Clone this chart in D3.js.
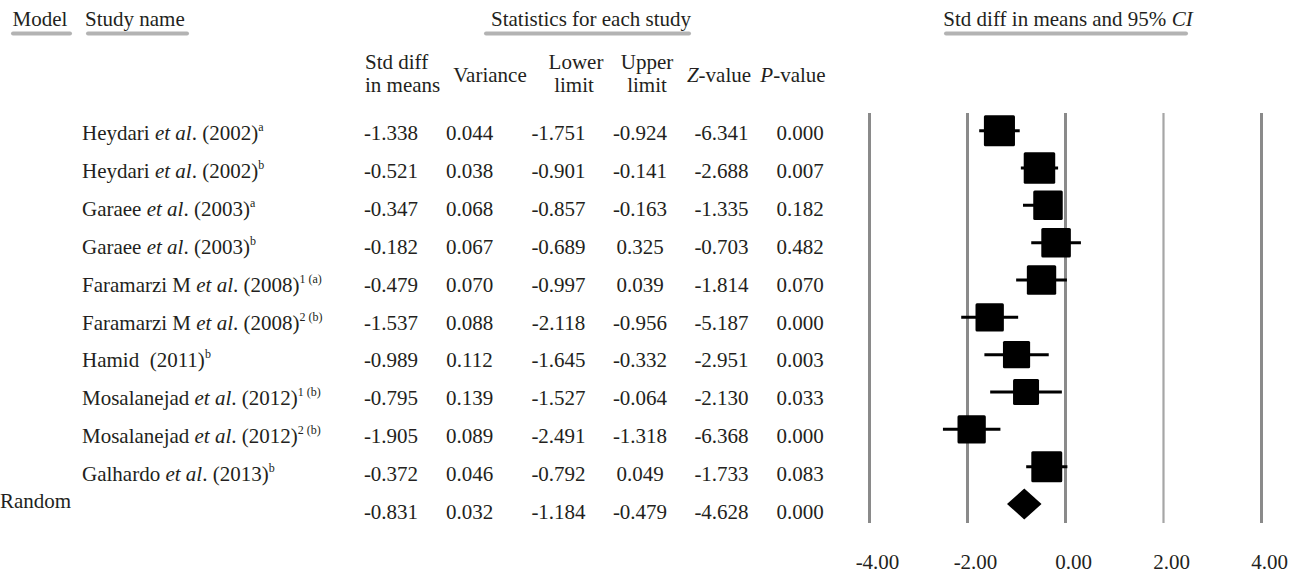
<!DOCTYPE html>
<html>
<head>
<meta charset="utf-8">
<script src="https://cdn.jsdelivr.net/npm/d3@7"></script>
<style>
  html, body { margin: 0; padding: 0; background: #fff; }
  svg text { font-family: "Liberation Serif", "Times New Roman", serif; fill: #231f20; }
</style>
</head>
<body>
<svg id="chart" width="1294" height="578"></svg>
<script>
// Study rows
const studyAuthors = ["Heydari", "Heydari", "Garaee", "Garaee", "Faramarzi M", "Faramarzi M",
                      "Hamid", "Mosalanejad", "Mosalanejad", "Galhardo"];
const studyEtAl    = [true, true, true, true, true, true, false, true, true, true];
const studyYears   = ["2002", "2002", "2003", "2003", "2008", "2008", "2011", "2012", "2012", "2013"];
const studySup     = ["a", "b", "a", "b", "1 (a)", "2 (b)", "b", "1 (b)", "2 (b)", "b"];

// Statistics for each study
const stdDiff  = [-1.338, -0.521, -0.347, -0.182, -0.479, -1.537, -0.989, -0.795, -1.905, -0.372];
const variance = [0.044, 0.038, 0.068, 0.067, 0.070, 0.088, 0.112, 0.139, 0.089, 0.046];
const lower    = [-1.751, -0.901, -0.857, -0.689, -0.997, -2.118, -1.645, -1.527, -2.491, -0.792];
const upper    = [-0.924, -0.141, -0.163, 0.325, 0.039, -0.956, -0.332, -0.064, -1.318, 0.049];
const zValue   = [-6.341, -2.688, -1.335, -0.703, -1.814, -5.187, -2.951, -2.130, -6.368, -1.733];
const pValue   = [0.000, 0.007, 0.182, 0.482, 0.070, 0.000, 0.003, 0.033, 0.000, 0.083];

// Random-effects summary
const randomLabel = "Random";
const randomStats = { stdDiff: -0.831, variance: 0.032, lower: -1.184, upper: -0.479, z: -4.628, p: 0.000 };

// Axis of the forest plot
const axisTicks = [-4, -2, 0, 2, 4];
const tauSquared = 0.245; // between-study variance used for box weights

const svg = d3.select("#chart");
const FS = 21;

const x = d3.scaleLinear().domain([-4, 4]).range([869, 1261]);
const nRows = stdDiff.length + 1;
// plot rows and table rows
const yPlot = d3.scaleLinear().domain([0, nRows - 1]).range([130.7, 504]);
const yText = d3.scaleLinear().domain([0, nRows - 1]).range([140, 519]);

// ---- headers ----
const hdr = svg.append("g");
function header(txt, x0, y0, anchor) {
  return hdr.append("text").attr("x", x0).attr("y", y0)
    .attr("text-anchor", anchor || "start").attr("font-size", FS).text(txt);
}
function underline(x1, x2) {
  hdr.append("line").attr("x1", x1).attr("x2", x2).attr("y1", 33.5).attr("y2", 33.5)
    .attr("stroke", "#b3b3b3").attr("stroke-width", 4).attr("stroke-linecap", "round");
}
header("Model", 12.5, 26);
underline(13, 70);
header("Study name", 85, 26);
underline(88, 187);
header("Statistics for each study", 591, 26, "middle");
underline(486, 689);
const ciHead = header("", 1068, 26, "middle");
ciHead.append("tspan").text("Std diff in means and 95% ");
ciHead.append("tspan").attr("font-style", "italic").text("CI");
underline(946, 1186);

// column headers
const colX = [391, 469.5, 558.5, 640, 721.5, 800];
const line1Y = 69, line2Y = 92;
header("Std diff", 365, line1Y);
header("in means", 365, line2Y);
header("Variance", 490, 82, "middle");
header("Lower", 576, line1Y, "middle");
header("limit", 574, line2Y, "middle");
header("Upper", 647, line1Y, "middle");
header("limit", 647, line2Y, "middle");
const zh = header("", 719, 82, "middle");
zh.append("tspan").attr("font-style", "italic").text("Z");
zh.append("tspan").text("-value");
const ph = header("", 793, 82, "middle");
ph.append("tspan").attr("font-style", "italic").text("P");
ph.append("tspan").text("-value");

// ---- study names ----
const names = svg.append("g");
studyAuthors.forEach((a, i) => {
  const t = names.append("text").attr("x", 82).attr("y", yText(i)).attr("font-size", FS);
  if (studyEtAl[i]) {
    t.append("tspan").text(a + " ");
    t.append("tspan").attr("font-style", "italic").text("et al");
    t.append("tspan").text(". (" + studyYears[i] + ")");
  } else {
    t.append("tspan").text(a + "\u00a0\u00a0(" + studyYears[i] + ")");
  }
  t.append("tspan").attr("font-size", 12).attr("dy", -9).text(studySup[i]);
});
svg.append("text").attr("x", 0).attr("y", yText(nRows - 1) - 11).attr("font-size", FS).text(randomLabel);

// ---- numeric table ----
const fmt = v => v.toFixed(3);
const tableRows = stdDiff.map((d, i) => [d, variance[i], lower[i], upper[i], zValue[i], pValue[i]]);
tableRows.push([randomStats.stdDiff, randomStats.variance, randomStats.lower, randomStats.upper, randomStats.z, randomStats.p]);
const tbl = svg.append("g");
tableRows.forEach((row, i) => {
  row.forEach((v, j) => {
    tbl.append("text").attr("x", colX[j]).attr("y", yText(i)).attr("text-anchor", "middle")
      .attr("font-size", FS).text(fmt(v));
  });
});

// ---- forest plot ----
const plot = svg.append("g");
const axisG = plot.append("g").attr("transform", "translate(0,523)")
  .call(d3.axisBottom(x).tickValues(axisTicks).tickSizeInner(-410).tickSizeOuter(0)
    .tickPadding(46).tickFormat(v => v.toFixed(2)));
axisG.select(".domain").remove();
axisG.selectAll(".tick line")
  .attr("stroke", d => d === 2 ? "#a6a6a6" : "#8a8a8a")
  .attr("stroke-width", d => d === 2 ? 2.2 : 3);
axisG.selectAll(".tick text")
  .attr("font-size", FS).attr("font-family", "Liberation Serif, serif")
  .attr("fill", "#231f20").attr("dy", 0).attr("dx", 8);

const weights = variance.map(v => 1 / (v + tauSquared));
const boxSize = d3.scaleLinear().domain(d3.extent(weights)).range([26, 31.5]);

stdDiff.forEach((d, i) => {
  const cy = yPlot(i);
  plot.append("line").attr("x1", x(lower[i])).attr("x2", x(upper[i]))
    .attr("y1", cy).attr("y2", cy).attr("stroke", "#000").attr("stroke-width", 3);
  const s = boxSize(weights[i]);
  plot.append("rect").attr("x", x(d) - s / 2).attr("y", cy - s / 2)
    .attr("width", s).attr("height", s).attr("rx", 1.5).attr("fill", "#000");
});

// summary diamond
const ry = yPlot(nRows - 1);
const dh = 15.5;
plot.append("path")
  .attr("d", `M${x(randomStats.lower)},${ry} L${x(randomStats.stdDiff)},${ry - dh} L${x(randomStats.upper)},${ry} L${x(randomStats.stdDiff)},${ry + dh} Z`)
  .attr("fill", "#000");
</script>
</body>
</html>
